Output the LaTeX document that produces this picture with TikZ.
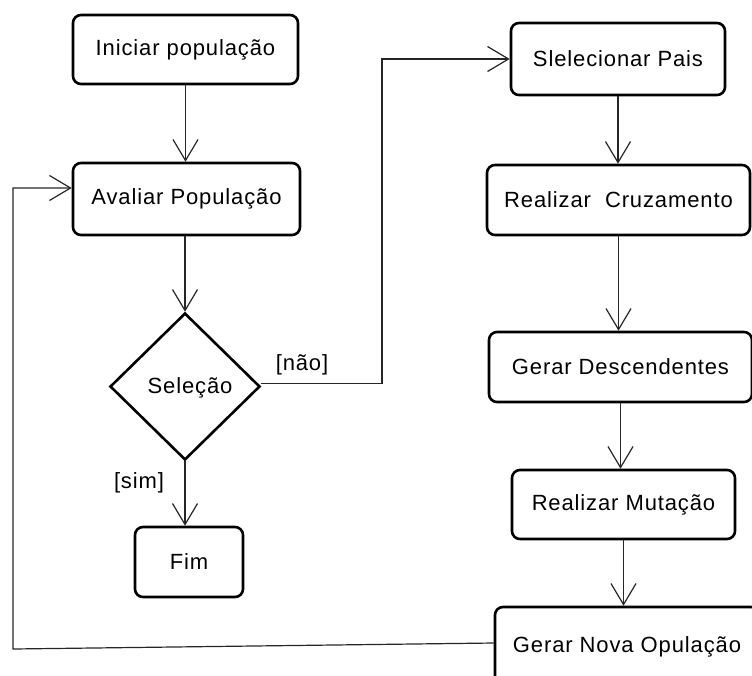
\documentclass[tikz,border=0pt]{standalone}
\usepackage{fontspec}
\setmainfont{Liberation Sans}[LetterSpace=4]
\usetikzlibrary{arrows.meta,shapes.geometric}
\begin{document}
\begin{tikzpicture}[x=1pt,y=1pt,
  font=\fontsize{22}{26}\selectfont,
  stepbox/.style={draw=black,line width=2.6pt,rounded corners=8pt,inner sep=0pt,
    align=center},
  choice/.style={draw=black,line width=2.6pt,diamond,inner sep=0pt,
    minimum width=150pt,minimum height=147pt},
  arr/.style={draw=black!85,line width=1.2pt,
    -{Straight Barb[length=21pt,width=25pt,line width=1.2pt]}},
  guard/.style={inner sep=0pt}]
\useasboundingbox (0,0) rectangle (752,-675);
\clip (0,0) rectangle (752,-675);

% left column
\node[stepbox,minimum width=225pt,minimum height=69pt] (ini) at (185.5,-49.5) {Iniciar população};
\node[stepbox,minimum width=227pt,minimum height=72pt] (ava) at (186.5,-199) {Avaliar População};
\node[choice] (sel) at (185,-386.5) {};
\node[guard] (seltxt) at (190,-388) {Seleção};
\node[stepbox,minimum width=108pt,minimum height=70pt] (fim) at (189,-562) {Fim};

% right column
\node[stepbox,minimum width=214pt,minimum height=72pt] (pai) at (618,-59) {Slelecionar Pais};
\node[stepbox,minimum width=263pt,minimum height=70pt] (cru) at (618.5,-200) {Realizar\ \ Cruzamento};
\node[stepbox,minimum width=263pt,minimum height=70pt] (des) at (620.5,-367) {Gerar Descendentes};
\node[stepbox,minimum width=223pt,minimum height=69pt] (mut) at (623.5,-504.5) {Realizar Mutação};
\node[stepbox,minimum width=264pt,minimum height=80pt] (nov) at (627,-647) {Gerar Nova Opulação};

% guard labels
\node[guard] (nao) at (302,-365) {[não]};
\node[guard] (sim) at (139,-483) {[sim]};

% connectors
\draw[arr] (ini.south) -- (ini.south |- ava.north);
\draw[arr] (sel.north |- ava.south) -- (sel.north);
\draw[arr] (sel.south) -- (sel.south |- fim.north);
\coordinate (jn) at (382,0);
\draw[arr] ([yshift=3pt]sel.east) -| (jn |- pai.west) -- (pai.west);
\draw[arr] (pai.south) -- (pai.south |- cru.north);
\draw[arr] (cru.south) -- (cru.south |- des.north);
\draw[arr] (des.south) -- (des.south |- mut.north);
\draw[arr] (mut.south) -- (mut.south |- nov.north);
\coordinate (lc) at (13,-649);
\draw[arr] ([yshift=4pt]nov.west) -- (lc) |- ([yshift=11pt]ava.west);
\end{tikzpicture}
\end{document}
